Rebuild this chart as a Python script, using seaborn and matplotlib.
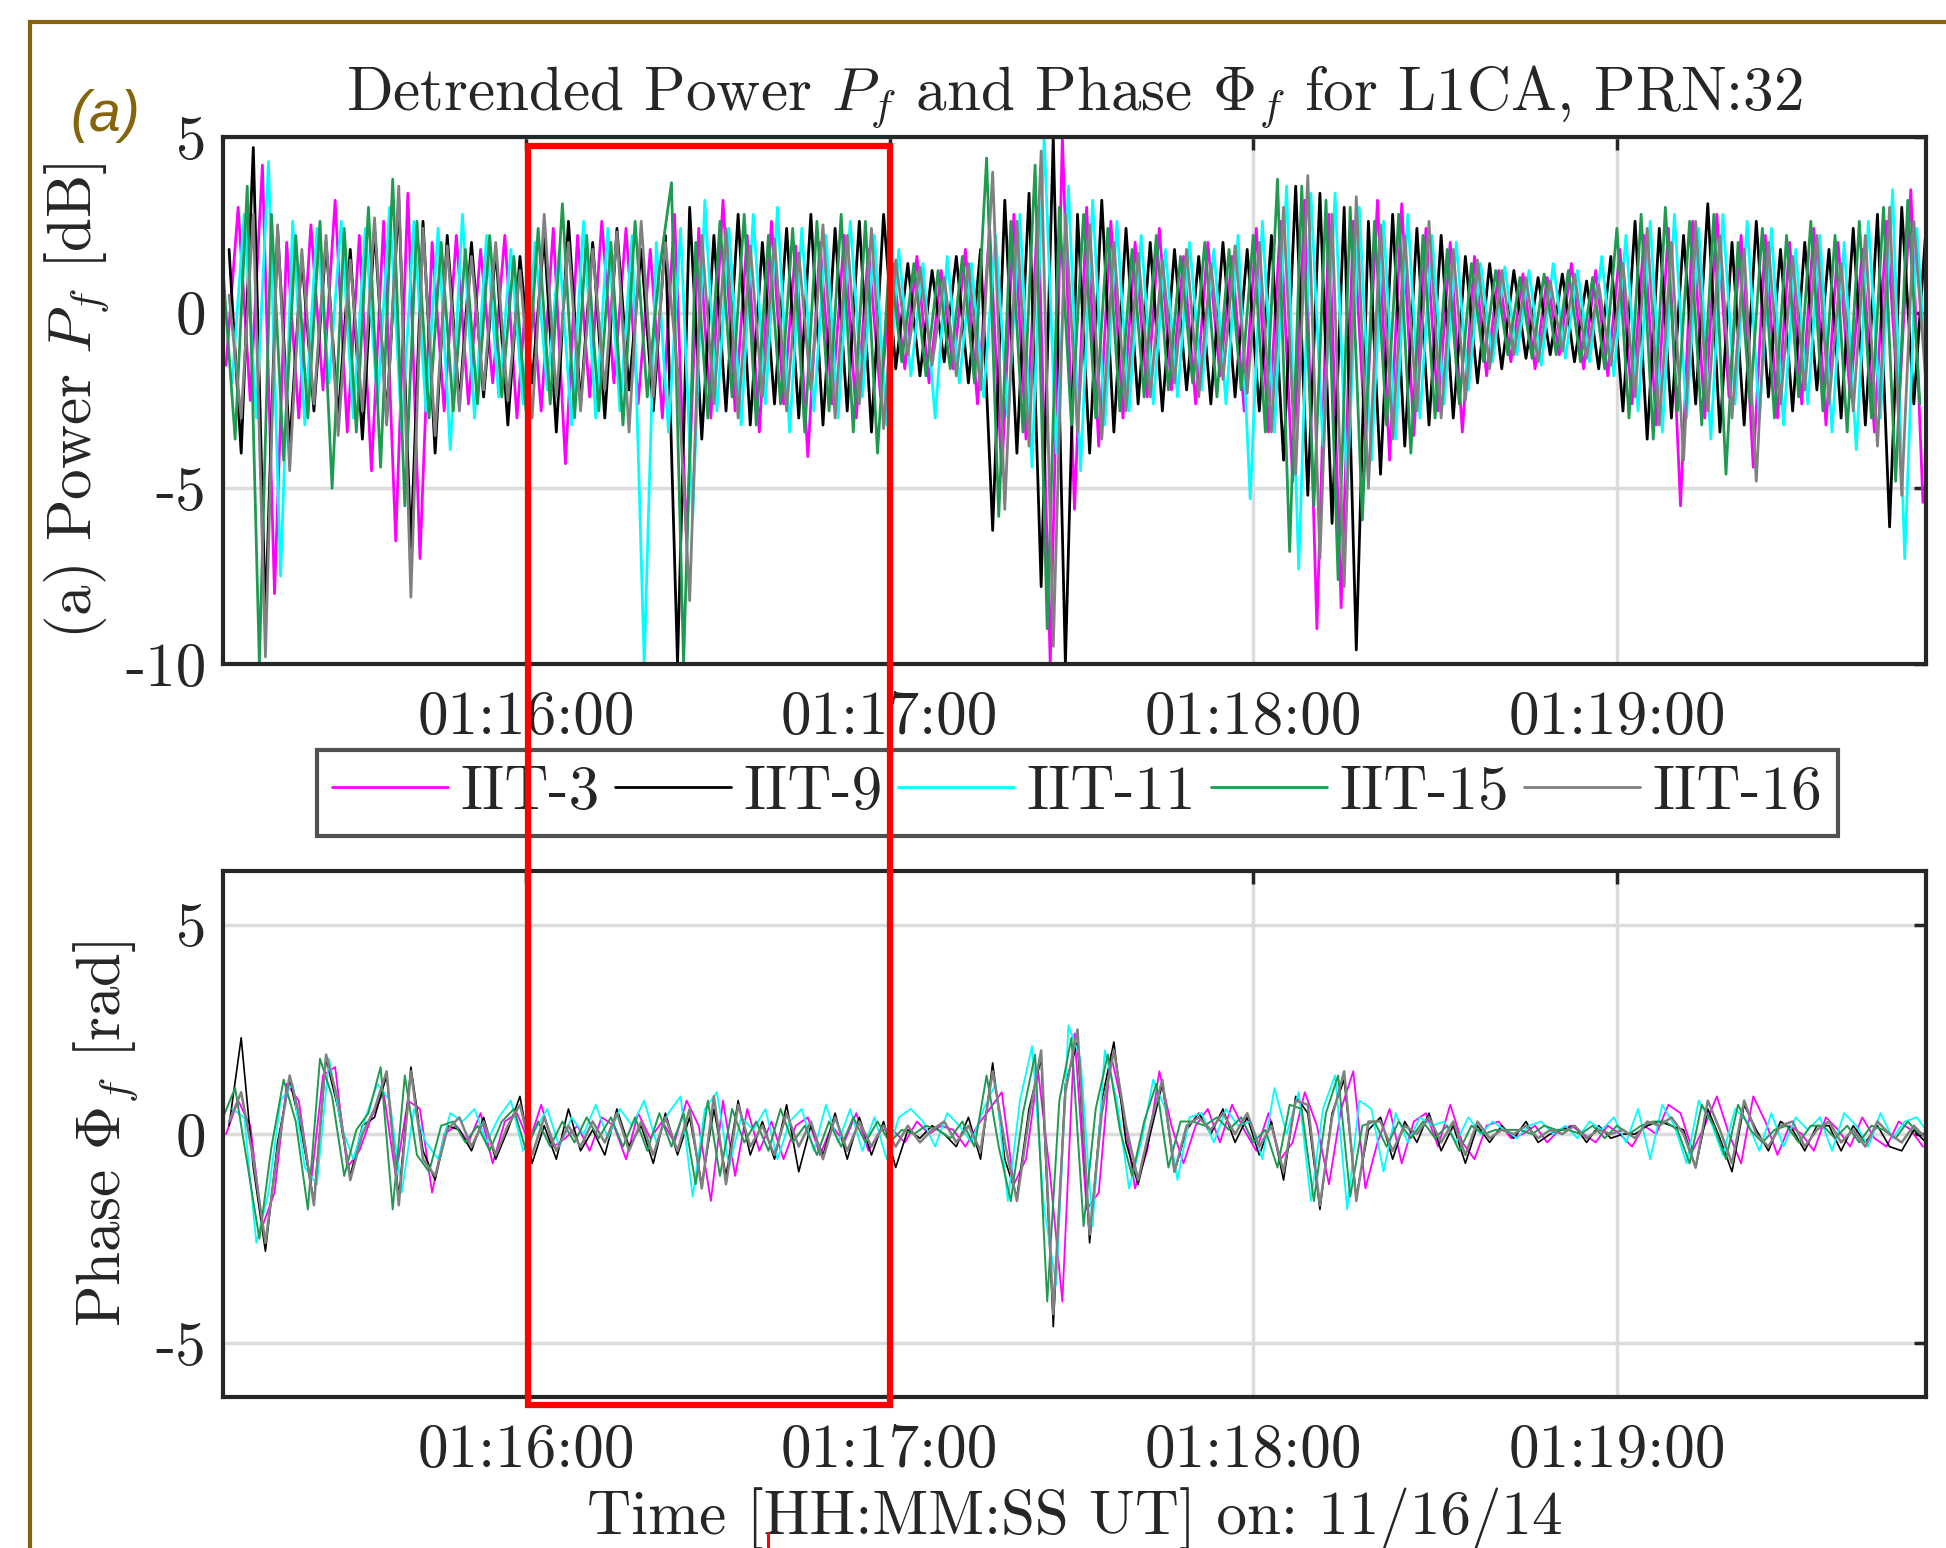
import numpy as np
import pandas as pd
import matplotlib
matplotlib.use('Agg')
import matplotlib.pyplot as plt
import matplotlib.transforms as mtransforms
from matplotlib.patches import Rectangle
from matplotlib.lines import Line2D
import seaborn as sns

# time axis (seconds after start_time, one sample every 2 s per receiver)
start_time = '01:15:10'
end_time = '01:19:50'
step_s = 2
receivers = ['IIT-3', 'IIT-9', 'IIT-11', 'IIT-15', 'IIT-16']
sample_offset_s = [0.5, 1.0, 1.5, 0.0, 1.0]
colors = ['#FF00FF', '#000000', '#00FFFF', '#1E9B50', '#808080']
tick_labels = ['01:16:00', '01:17:00', '01:18:00', '01:19:00']
power_ticks = ['5', '0', '-5', '-10']
phase_ticks = ['5', '0', '-5']
box_times = ['01:16:00', '01:17:00']
arrow_time = '01:16:40'

# detrended power [dB]
power_iit3 = [
    -1.5, 3.0, -2.5, 4.2, -8.0, 2.0, -3.0, 2.5, -2.2, 3.2,
    -3.4, 2.2, -4.5, 2.6, -6.5, 3.4, -7.0, 2.0, -2.8, 2.2,
    -2.6, 1.8, -2.0, 2.2, -3.0, 1.6, -2.8, 2.4, -4.3, 2.2,
    -2.4, 2.6, -2.0, 2.4, -2.6, 1.8, -3.0, 2.8, -6.5, 2.4,
    -3.0, 3.2, -2.8, 2.2, -3.4, 2.6, -2.6, 1.9, -4.1, 2.0,
    -2.6, 2.2, -3.0, 1.8, -2.4, 1.4, -1.6, 1.6, -2.0, 1.2,
    -1.6, 1.8, -2.6, 2.4, -4.6, 2.8, -3.6, 3.0, -10.0, 5.0,
    -5.6, 3.0, -3.8, 2.6, -3.0, 2.0, -2.4, 2.4, -2.2, 1.6,
    -2.6, 2.0, -1.8, 1.6, -2.8, 2.4, -3.4, 2.6, -4.8, 3.2,
    -9.0, 2.8, -8.4, 2.6, -3.6, 3.2, -4.2, 3.1, -3.5, 2.4,
    -2.8, 2.0, -3.4, 1.6, -1.8, 1.2, -1.4, 1.1, -1.6, 1.0,
    -1.2, 1.4, -1.6, 1.2, -1.8, 1.8, -2.6, 2.2, -3.2, 2.4,
    -5.5, 2.6, -3.0, 2.8, -2.4, 2.2, -4.4, 2.2, -3.0, 2.0,
    -2.6, 2.4, -3.2, 2.0, -2.4, 1.8, -3.4, 2.6, -2.8, 3.5,
    -5.4]
power_iit9 = [
    1.8, -4.0, 4.7, -8.7, 2.4, -3.8, 1.6, -2.8, 2.0, -3.0,
    1.8, -3.6, 2.4, -3.0, 3.2, -6.7, 2.6, -4.0, 2.2, -2.6,
    2.0, -2.4, 1.8, -3.2, 1.6, -2.0, 2.2, -3.4, 2.6, -2.6,
    2.0, -3.0, 2.4, -2.2, 1.8, -2.8, 2.2, -10.0, 3.0, -3.6,
    2.2, -2.8, 2.8, -3.2, 2.0, -2.6, 2.4, -3.0, 2.8, -3.2,
    2.4, -2.8, 2.6, -3.4, 2.8, -1.6, 1.4, -1.8, 1.2, -1.4,
    1.6, -2.0, 1.8, -6.2, 3.2, -4.0, 3.4, -7.8, 5.0, -10.0,
    2.8, -4.0, 3.2, -3.4, 2.4, -2.6, 2.0, -2.8, 1.8, -2.2,
    1.6, -2.6, 2.0, -2.4, 1.8, -2.8, 2.2, -4.2, 3.6, -5.2,
    3.4, -6.0, 3.0, -9.6, 2.6, -4.6, 2.8, -3.8, 2.4, -3.2,
    2.2, -3.0, 1.6, -2.0, 1.4, -1.6, 1.2, -1.3, 1.0, -1.2,
    1.1, -1.4, 0.9, -1.6, 1.6, -2.8, 2.6, -3.6, 2.4, -3.0,
    2.2, -2.6, 3.1, -3.4, 2.0, -3.2, 2.6, -2.4, 1.8, -2.8,
    2.0, -2.2, 1.8, -3.0, 2.4, -3.2, 2.8, -6.1, 3.0, -2.6,
    2.4]
power_iit11 = [
    -2.0, 2.8, -3.0, 4.3, -7.5, 2.6, -3.2, 2.4, -2.0, 2.6,
    -3.0, 2.4, -2.6, 3.0, -3.4, 2.6, -2.8, 2.4, -3.9, 2.8,
    -3.0, 2.2, -2.4, 1.8, -2.6, 2.0, -2.2, 1.8, -3.2, 2.6,
    -3.0, 2.4, -2.8, 2.2, -10.0, 2.0, -3.4, 2.4, -5.8, 3.2,
    -2.8, 2.4, -3.2, 2.8, -2.6, 3.0, -3.4, 2.4, -2.8, 2.2,
    -3.0, 2.6, -2.4, 2.2, -3.2, 1.8, -1.8, 1.4, -3.0, 1.6,
    -2.0, 1.4, -2.4, 2.2, -3.0, 2.8, -4.4, 5.0, -4.0, 3.6,
    -4.5, 3.2, -3.2, 2.6, -2.8, 2.2, -2.6, 1.8, -2.4, 2.0,
    -2.2, 1.8, -2.6, 2.2, -5.3, 2.6, -3.4, 3.6, -7.3, 3.4,
    -3.8, 3.4, -5.0, 3.0, -4.2, 2.6, -3.6, 2.8, -3.0, 2.2,
    -2.6, 2.0, -2.2, 1.4, -1.4, 1.3, -1.2, 1.2, -1.5, 1.4,
    -1.3, 1.2, -1.4, 1.6, -1.8, 2.2, -2.8, 2.6, -3.4, 2.8,
    -3.0, 2.4, -3.6, 2.8, -2.6, 2.6, -3.0, 2.4, -3.2, 1.8,
    -2.6, 2.2, -3.4, 2.0, -3.9, 2.6, -3.0, 3.5, -7.0, 2.4,
    -3.0]
power_iit15 = [
    1.2, -3.6, 3.6, -10.0, 2.8, -4.2, 2.2, -3.0, 2.6, -5.0,
    2.4, -3.4, 3.0, -4.4, 3.8, -5.5, 2.6, -3.0, 2.0, -2.8,
    1.8, -2.6, 2.2, -2.4, 1.6, -2.8, 2.4, -2.6, 3.1, -3.0,
    2.2, -2.8, 2.0, -3.2, 2.6, -2.4, 1.2, 3.7, -10.0, 2.0,
    -3.0, 2.6, -2.4, 2.8, -3.2, 2.2, -2.6, 2.4, -3.4, 2.6,
    -2.8, 2.8, -3.4, 2.6, -4.0, 1.6, -1.4, 1.4, -1.8, 1.2,
    -1.6, 1.6, -2.0, 4.4, -5.8, 2.6, -3.4, 4.2, -9.0, 3.0,
    -3.2, 2.8, -3.0, 2.4, -2.8, 1.8, -2.4, 2.2, -2.2, 1.6,
    -2.0, 2.0, -2.4, 1.8, -2.2, 2.2, -3.4, 3.8, -6.8, 3.6,
    -5.5, 3.2, -7.6, 3.0, -5.9, 2.6, -3.2, 2.8, -4.0, 2.2,
    -3.0, 1.8, -2.6, 1.4, -1.4, 1.2, -1.2, 1.0, -1.3, 1.1,
    -1.2, 1.2, -1.4, 1.0, -1.6, 2.4, -3.0, 2.8, -3.6, 3.0,
    -2.8, 2.6, -3.2, 2.8, -4.6, 2.0, -2.6, 2.4, -3.0, 2.2,
    -2.4, 2.6, -2.8, 2.2, -3.4, 2.6, -3.0, 3.0, -4.8, 3.2,
    -2.6]
power_iit16 = [
    0.5, -3.0, 2.8, -9.8, 2.5, -4.5, 1.8, -2.6, 2.2, -3.5,
    1.5, -2.8, 2.7, -3.2, 3.6, -8.1, 2.4, -3.5, 1.9, -2.8,
    1.6, -2.2, 2.0, -2.5, 1.2, -3.0, 2.8, -2.4, 2.0, -2.8,
    1.8, -2.2, 2.3, -3.4, 2.6, -2.4, 2.0, -1.6, -8.2, 2.2,
    -2.6, 2.4, -3.0, 1.9, -2.4, 2.1, -2.8, 1.7, -2.2, 2.5,
    -3.0, 2.2, -2.6, 2.4, -3.3, 1.5, -1.2, 1.3, -1.5, 1.0,
    -1.8, 1.4, -2.2, 4.0, -5.6, 2.6, -3.8, 4.6, -9.5, 2.8,
    -3.4, 2.5, -3.6, 2.0, -2.8, 1.7, -2.4, 1.5, -2.0, 1.8,
    -2.4, 1.4, -1.9, 1.9, -2.3, 2.0, -3.4, 3.0, -4.6, 3.9,
    -7.0, 2.8, -7.8, 3.3, -5.0, 2.5, -3.6, 2.2, -2.8, 2.6,
    -3.0, 1.8, -2.5, 1.5, -1.6, 1.2, -1.2, 1.0, -1.4, 0.9,
    -1.1, 1.1, -1.3, 0.8, -1.5, 1.4, -2.4, 2.4, -3.2, 2.0,
    -4.2, 2.6, -2.8, 2.2, -3.0, 1.8, -4.8, 2.0, -2.6, 1.6,
    -2.2, 2.2, -2.6, 1.4, -2.8, 2.2, -3.8, 3.0, -5.2, 2.6,
    -2.0]

# detrended phase [rad]
phase_iit3 = [
    0.0, 0.8, 0.2, -2.2, -1.4, 1.2, 0.8, -1.2, 1.4, 1.6,
    -0.8, -0.4, 0.4, 1.0, -1.0, 0.8, 0.6, -1.4, 0.0, 0.2,
    -0.2, 0.5, -0.7, 0.3, 0.5, -0.2, 0.7, -0.3, -0.1, 0.2,
    -0.4, 0.4, 0.2, -0.6, 0.5, -0.1, 0.3, -0.2, 0.8, 0.2,
    -1.6, 0.8, -1.0, 0.6, -0.4, 0.3, -0.6, 0.2, 0.4, -0.5,
    0.2, -0.2, 0.5, -0.4, 0.1, 0.1, -0.2, 0.3, 0.0, 0.2,
    0.1, -0.3, 0.2, 0.6, 1.0, -1.2, -0.6, 1.5, -1.0, -4.0,
    2.4, -1.8, -1.4, 1.9, 0.6, -1.3, -0.4, 1.5, 0.2, -0.7,
    0.2, 0.6, -0.2, 0.7, 0.1, -0.4, 0.5, -0.6, -0.2, 1.0,
    0.2, -1.2, 0.6, 1.5, -1.3, -0.2, 0.6, -0.7, 0.3, 0.5,
    -0.3, 0.7, -0.2, -0.6, 0.2, 0.3, -0.1, 0.0, 0.2, -0.2,
    0.1, 0.2, 0.0, -0.2, 0.2, 0.0, -0.3, 0.2, 0.0, 0.7,
    0.5, -0.4, 0.2, 0.9, 0.0, -0.7, 0.9, 0.3, -0.5, 0.2,
    0.0, -0.4, 0.4, 0.1, -0.3, 0.4, -0.1, -0.3, 0.3, 0.1,
    -0.3]
phase_iit9 = [
    0.2, 2.3, -0.8, -2.8, -0.2, 1.3, 0.0, -1.6, 1.8, 0.6,
    -1.0, 0.2, 0.4, 1.4, -1.5, 1.6, -0.4, -1.1, 0.2, 0.1,
    -0.4, 0.4, -0.6, 0.1, 0.9, -0.7, 0.2, -0.6, 0.6, -0.4,
    0.1, -0.5, 0.6, -0.3, 0.2, -0.7, 0.5, -0.5, 0.4, -1.2,
    0.6, -1.0, 0.8, -0.5, 0.3, -0.6, 0.7, -0.9, 0.2, -0.5,
    0.5, -0.6, 0.4, -0.5, 0.3, -0.8, 0.1, -0.1, 0.2, 0.0,
    -0.3, 0.4, -0.6, 1.7, -0.6, -1.5, 0.6, 1.8, -4.6, 1.2,
    2.2, -2.6, 0.8, 2.2, -0.2, -1.2, 0.0, 1.2, -0.9, 0.1,
    0.5, 0.0, 0.6, -0.2, 0.4, -0.5, 0.3, -1.1, 0.9, 0.5,
    -1.8, 0.5, 1.3, -1.5, 0.1, 0.4, -0.6, 0.3, -0.2, 0.5,
    -0.4, 0.2, -0.7, 0.2, -0.2, 0.2, -0.1, 0.3, -0.2, 0.0,
    0.1, 0.2, -0.2, 0.2, -0.1, 0.0, 0.0, 0.2, 0.3, 0.2,
    0.1, -0.8, 0.6, -0.1, -0.9, 0.7, 0.1, -0.4, 0.3, 0.1,
    -0.4, 0.2, 0.2, -0.4, 0.2, -0.2, 0.2, -0.3, -0.4, 0.1,
    -0.2]
phase_iit11 = [
    0.6, 0.4, -2.6, -1.4, 0.8, 1.2, -0.8, -1.2, 1.8, 0.2,
    -0.6, 0.4, 1.2, 0.8, -1.4, 0.6, -0.2, -0.6, 0.5, 0.3,
    0.6, -0.2, 0.4, 0.8, -0.4, 0.1, 0.6, -0.3, 0.4, 0.0,
    0.7, -0.1, 0.6, 0.2, 0.8, -0.2, 0.5, 0.9, -1.5, 0.6,
    1.0, -0.8, 0.4, 0.1, 0.6, -0.6, 0.3, 0.6, -0.4, 0.7,
    -0.2, 0.6, -0.4, 0.4, -0.6, 0.4, 0.6, 0.3, -0.3, 0.5,
    0.2, -0.2, 0.6, 1.2, -1.6, 0.8, 2.1, -1.8, -3.6, 2.6,
    1.8, -2.2, 2.0, 0.8, -1.3, -0.2, 1.3, 0.6, -1.1, 0.4,
    0.5, -0.2, 0.6, 0.2, 0.3, -0.6, 1.1, 0.0, 1.0, -1.6,
    0.6, 1.4, -1.8, 0.8, 0.6, -0.9, 0.5, -0.2, 0.4, 0.2,
    0.3, -0.2, 0.4, 0.0, 0.3, 0.1, -0.1, 0.2, 0.3, 0.0,
    0.2, -0.1, 0.3, 0.1, 0.4, -0.2, 0.6, -0.6, 0.7, 0.2,
    -0.7, 0.8, 0.3, -0.5, 0.6, 0.3, -0.4, 0.5, -0.3, 0.4,
    0.1, 0.4, -0.4, 0.5, 0.2, -0.3, 0.5, -0.1, 0.3, 0.4,
    0.0]
phase_iit15 = [
    0.4, 1.1, -0.7, -2.5, -0.3, 1.3, 0.3, -1.8, 1.8, 0.9,
    -1.0, 0.1, 0.5, 1.6, -1.8, 1.4, -0.5, -0.9, 0.2, 0.3,
    -0.2, 0.2, -0.4, 0.3, 0.6, -0.4, 0.3, -0.3, 0.3, -0.2,
    0.4, -0.1, 0.4, -0.3, 0.4, -0.4, 0.5, -0.3, 0.5, -1.2,
    0.8, -1.0, 0.6, -0.2, 0.3, -0.4, 0.6, -0.2, 0.2, -0.5,
    0.3, -0.3, 0.4, -0.2, 0.3, -0.2, 0.1, 0.0, 0.2, 0.1,
    -0.1, 0.3, -0.3, 1.4, -0.3, -1.6, 0.5, 1.9, -4.0, 0.8,
    2.3, -2.2, 0.6, 1.9, 0.1, -1.0, 0.3, 1.2, -0.8, 0.3,
    0.3, 0.2, 0.4, 0.1, 0.4, -0.2, 0.1, -0.8, 0.7, 0.6,
    -1.6, 0.5, 1.4, -1.5, 0.2, 0.3, -0.3, 0.3, -0.1, 0.3,
    -0.1, 0.2, -0.4, 0.2, 0.0, 0.1, 0.1, 0.1, 0.0, 0.2,
    0.1, 0.1, 0.0, 0.2, -0.1, 0.2, 0.0, 0.2, 0.3, 0.3,
    0.1, -0.7, 0.7, 0.2, -0.6, 0.7, 0.1, -0.2, 0.1, 0.2,
    -0.2, 0.2, 0.2, -0.1, 0.2, -0.2, 0.2, 0.1, -0.1, 0.3,
    0.0]
phase_iit16 = [
    0.3, 1.0, -0.6, -2.6, -0.4, 1.4, 0.2, -1.7, 1.9, 0.8,
    -1.1, 0.0, 0.6, 1.5, -1.7, 1.5, -0.6, -1.0, 0.1, 0.4,
    -0.3, 0.3, -0.5, 0.2, 0.7, -0.5, 0.4, -0.4, 0.2, -0.3,
    0.3, -0.2, 0.5, -0.4, 0.3, -0.5, 0.4, -0.4, 0.6, -1.3,
    0.9, -1.2, 0.7, -0.3, 0.2, -0.5, 0.5, -0.3, 0.3, -0.6,
    0.4, -0.4, 0.3, -0.3, 0.2, -0.3, 0.2, -0.2, 0.1, 0.3,
    -0.2, 0.2, -0.4, 1.5, -0.2, -1.6, 0.4, 2.0, -4.3, 1.0,
    2.5, -2.4, 0.5, 2.0, 0.2, -1.1, 0.2, 1.3, -0.9, 0.2,
    0.4, 0.1, 0.5, 0.0, 0.5, -0.3, 0.2, -0.9, 0.8, 0.7,
    -1.7, 0.4, 1.5, -1.6, 0.3, 0.3, -0.4, 0.2, 0.0, 0.4,
    -0.2, 0.3, -0.5, 0.3, -0.1, 0.1, 0.0, 0.2, -0.1, 0.1,
    0.0, 0.2, -0.1, 0.1, 0.0, 0.1, -0.1, 0.3, 0.2, 0.4,
    0.0, -0.8, 0.8, 0.1, -0.7, 0.8, 0.0, -0.3, 0.2, 0.3,
    -0.3, 0.1, 0.3, -0.2, 0.1, -0.3, 0.3, 0.0, -0.2, 0.2,
    -0.1]

sns.set_style('white')
plt.rcParams['font.family'] = ['cmr10', 'DejaVu Serif']
plt.rcParams['mathtext.fontset'] = 'cm'
plt.rcParams['axes.unicode_minus'] = False
plt.rcParams['axes.formatter.use_mathtext'] = True

t_start = pd.to_timedelta(start_time)


def secs(hms):
    return (pd.to_timedelta(hms) - t_start).total_seconds()


seconds = np.arange(0, secs(end_time) + 1, step_s)
n = len(seconds)
df = pd.DataFrame({
    'sec': np.concatenate([seconds + off for off in sample_offset_s]),
    'receiver': np.repeat(receivers, n),
    'power': np.concatenate([power_iit3, power_iit9, power_iit11, power_iit15, power_iit16]),
    'phase': np.concatenate([phase_iit3, phase_iit9, phase_iit11, phase_iit15, phase_iit16]),
})
palette = dict(zip(receivers, colors))
widths = {'IIT-3': 1.3, 'IIT-9': 1.2, 'IIT-11': 1.3, 'IIT-15': 1.4, 'IIT-16': 1.8}

fig = plt.figure(figsize=(19.46, 15.48), dpi=100)
ax_top = fig.add_axes([0.1146, 0.5711, 0.8751, 0.3404])
ax_bot = fig.add_axes([0.1146, 0.0975, 0.8751, 0.3398])

for rec in receivers:
    sub = df[df['receiver'] == rec]
    sns.lineplot(data=sub, x='sec', y='power', color=palette[rec], label=rec,
                 estimator=None, errorbar=None, lw=widths[rec], ax=ax_top)
    sns.lineplot(data=sub, x='sec', y='phase', color=palette[rec],
                 estimator=None, errorbar=None, lw=widths[rec], ax=ax_bot)

handles, labels = ax_top.get_legend_handles_labels()
ax_top.get_legend().remove()
for h in handles:
    h.set_linewidth(2)
leg = fig.legend(handles, labels, loc='center', bbox_to_anchor=(0.5535, 0.4877), ncol=5,
                 fontsize=44, frameon=True, fancybox=False, handlelength=1.9,
                 handletextpad=0.2, columnspacing=0.25, borderpad=0.25)
leg.get_frame().set_edgecolor('#262626')
leg.get_frame().set_linewidth(3)

tick_pos = [secs(t) for t in tick_labels]
for ax in (ax_top, ax_bot):
    ax.set_xlim(0, secs(end_time) + 1)
    ax.set_xticks(tick_pos)
    ax.set_xticklabels(tick_labels)
    ax.set_xlabel('')
    ax.grid(True, color='#DCDCDC', lw=2.5)
    ax.set_axisbelow(True)
    ax.tick_params(direction='in', length=9, width=2.5, top=True, right=True,
                   labelsize=44, color='#262626')
    ax.tick_params(axis='x', pad=19)
    ax.tick_params(axis='y', pad=12)
    for sp in ax.spines.values():
        sp.set_color('#262626')
        sp.set_linewidth(3)

ax_top.set_ylim(-10, 5)
ax_top.set_yticks([float(v) for v in power_ticks])
ax_top.set_yticklabels(power_ticks)
ax_top.set_ylabel(r'(a) Power $P_f$ [dB]', fontsize=44)
ax_top.yaxis.set_label_coords(-0.066, 0.5)
ax_top.set_title(r'Detrended Power $P_f$ and Phase $\Phi_f$ for L1CA, PRN:32', fontsize=44, pad=20)

ax_bot.set_ylim(-2 * np.pi, 2 * np.pi)
ax_bot.set_yticks([float(v) for v in phase_ticks])
ax_bot.set_yticklabels(phase_ticks)
ax_bot.set_ylabel(r'Phase $\Phi_f$ [rad]', fontsize=44)
ax_bot.yaxis.set_label_coords(-0.049, 0.5)
ax_bot.set_xlabel('Time [HH:MM:SS UT] on: 11/16/14', fontsize=44)
ax_bot.xaxis.set_label_coords(0.5, -0.172)

# highlight box spanning both panels, from 01:16:00 to 01:17:00
blend = mtransforms.blended_transform_factory(ax_top.transData, fig.transFigure)
x0, x1 = secs(box_times[0]), secs(box_times[1])
fig.add_artist(Rectangle((x0 + 0.4, 0.0924), x1 - x0 - 0.4, 0.8133, transform=blend, fill=False,
                         edgecolor='#FF0000', lw=4.5, clip_on=False, zorder=10))
xa = secs(arrow_time)
fig.add_artist(Line2D([xa, xa], [0.0, 0.0097], transform=blend, color='#FF0000', lw=2.2))

# outer panel frame and label
brown = '#85640A'
fig.add_artist(Rectangle((0.0155, -0.05), 1.2, 1.05 - 0.0142, transform=fig.transFigure,
                         fill=False, edgecolor=brown, lw=3))
fig.text(0.054, 0.925, '(a)', fontsize=41, color=brown, style='italic',
         family='Liberation Sans', ha='center', va='center')

fig.savefig('out.png', dpi=100)
